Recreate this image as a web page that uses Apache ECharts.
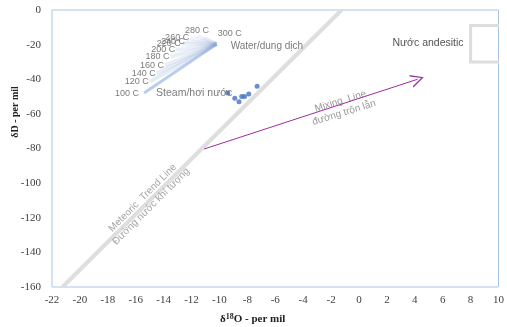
<!DOCTYPE html>
<html>
<head>
<meta charset="utf-8">
<script src="https://cdn.jsdelivr.net/npm/echarts@6/dist/echarts.min.js"></script>
<style>
  html, body { margin: 0; padding: 0; background: #fff; }
  #chart { width: 507px; height: 327px; }
</style>
</head>
<body>
<div id="chart"></div>
<script>
// Separation temperatures and the composition of the separated steam
const steamTemps = ['100 C', '120 C', '140 C', '160 C', '180 C', '200 C', '220 C', '240 C', '260 C', '280 C', '300 C'];
const steamO18 = [-15.4, -15.0, -14.5, -13.9, -13.5, -13.1, -12.7, -12.4, -12.1, -11.6, -11.1];
const steamD = [-48, -41.5, -36.5, -32, -27, -23, -19.5, -18, -16, -15, -16];

// Parent water composition
const waterO18 = -10.2;
const waterD = -19.6;

// Measured samples
const sampleO18 = [-9.4, -8.9, -8.6, -8.4, -8.2, -7.9, -7.3];
const sampleD = [-48, -51, -53, -50, -50, -48.5, -44];

// Meteoric water line (end points)
const meteoricO18 = [-21.25, -1.25];
const meteoricD = [-160, 0];

// Mixing line (start, end)
const mixingO18 = [-11.1, 4.2];
const mixingD = [-80.3, -40];

// Andesitic water field (corners)
const andesiticO18 = [8, 12];
const andesiticD = [-9, -30];

// Axis ticks
const xMin = -22, xMax = 10, xStep = 2;
const yMin = -160, yMax = 0, yStep = 20;

const chart = echarts.init(document.getElementById('chart'), null, { renderer: 'canvas' });

const serif = '"Liberation Serif", "DejaVu Serif", serif';
const sans = '"Liberation Sans", Arial, sans-serif';

// Fan of lines from the water to each steam composition
const fanData = steamTemps.map((t, i) => ({
  coords: [[waterO18, waterD], [steamO18[i], steamD[i]]],
  lineStyle: i === 0
    ? { color: 'rgba(84,130,200,0.8)', width: 3 }
    : { color: 'rgba(130,160,210,' + (0.42 - i * 0.022).toFixed(3) + ')', width: 4 }
}));

const tempLabelData = steamTemps.map((t, i) => {
  const item = { value: [steamO18[i], steamD[i]], name: t };
  if (t === '280 C') {
    item.label = { position: 'top', distance: 1 };
  } else if (t === '300 C') {
    item.value = [waterO18, waterD];
    item.label = { position: 'top', offset: [13, -3], distance: 3 };
  } else if (i > 0) {
    item.label = { distance: 1 };
  }
  return item;
});

const mixPts = mixingO18.map((x, i) => [x, mixingD[i]]);
const meteoricPts = meteoricO18.map((x, i) => [x, meteoricD[i]]);

const chevron = 'path://M0,12 L5,0 L10,12 L8.9,12 L5,2.5 L1.1,12 Z';

chart.setOption({
  animation: false,
  backgroundColor: '#fff',
  grid: {
    left: 52, right: 6, top: 10, bottom: 40,
    show: true, borderColor: '#A9C5E6', borderWidth: 1, backgroundColor: 'transparent'
  },
  xAxis: {
    type: 'value', min: xMin, max: xMax, interval: xStep,
    axisLine: { show: false }, axisTick: { show: false }, splitLine: { show: false },
    axisLabel: { color: '#404040', fontFamily: serif, fontSize: 11, margin: 8 }
  },
  yAxis: {
    type: 'value', min: yMin, max: yMax, interval: yStep,
    axisLine: { show: false }, axisTick: { show: false }, splitLine: { show: false },
    axisLabel: { color: '#404040', fontFamily: serif, fontSize: 11, margin: 11 }
  },
  graphic: [
    {
      type: 'text', left: 220, top: 313,
      style: {
        text: '{a|δ}{s|18}{a|O - per mil}',
        rich: {
          a: { fontFamily: serif, fontWeight: 'bold', fontSize: 11, fill: '#222' },
          s: { fontFamily: serif, fontWeight: 'bold', fontSize: 8, fill: '#222', verticalAlign: 'top', padding: [0, 0, 4, 0] }
        }
      }
    },
    {
      type: 'text', x: 15, y: 112, rotation: Math.PI / 2,
      style: {
        text: 'δD - per mil', fontFamily: serif, fontWeight: 'bold', fontSize: 10, fill: '#222',
        align: 'center', verticalAlign: 'middle'
      }
    }
  ],
  series: [
    {
      // Meteoric water line
      type: 'line', data: meteoricPts, symbol: 'none', silent: true, z: 1,
      lineStyle: { color: '#DEDEDE', width: 4 }
    },
    {
      // Andesitic water field, clipped at the plot edge
      type: 'custom', silent: true, z: 1, clip: true,
      data: [[andesiticO18[0], andesiticD[0], andesiticO18[1], andesiticD[1]]],
      renderItem: (params, api) => {
        const p0 = api.coord([api.value(0), api.value(1)]);
        const p1 = api.coord([api.value(2), api.value(3)]);
        return {
          type: 'rect',
          shape: { x: p0[0], y: p0[1], width: p1[0] - p0[0], height: p1[1] - p0[1] },
          style: { fill: 'none', stroke: '#DDDDDD', lineWidth: 3 }
        };
      }
    },
    {
      // Steam fan
      type: 'lines', coordinateSystem: 'cartesian2d', data: fanData, silent: true, z: 2
    },
    {
      // Temperature labels
      type: 'scatter', data: tempLabelData, symbolSize: 0, silent: true, z: 3,
      label: {
        show: true, position: 'left', distance: 5, formatter: p => p.name,
        color: '#595959', fontFamily: sans, fontSize: 9
      }
    },
    {
      // Mixing line with open arrowhead
      type: 'lines', coordinateSystem: 'cartesian2d', silent: true, z: 3,
      symbol: ['none', chevron], symbolSize: [9, 13],
      data: [{ coords: mixPts }],
      lineStyle: { color: '#A02BA0', width: 1, opacity: 1 }
    },
    {
      // Samples
      type: 'scatter', data: sampleO18.map((x, i) => [x, sampleD[i]]), z: 4,
      symbolSize: 5, itemStyle: { color: '#4472C4' }
    },
    {
      // Text annotations
      type: 'scatter', symbolSize: 0, silent: true, z: 5,
      label: { show: true, position: 'inside', formatter: p => p.name, color: '#595959', fontFamily: sans },
      data: [
        { name: 'Water/dung dịch', value: [waterO18, waterD], label: { position: 'right', distance: 14, offset: [0, 2], fontSize: 10 } },
        { name: 'Steam/hơi nước', value: [steamO18[0], steamD[0]], label: { position: 'right', distance: 12, fontSize: 10.5 } },
        { name: 'Nước andesitic', value: [andesiticO18[0], (andesiticD[0] + andesiticD[1]) / 2], label: { position: 'left', distance: 7, offset: [0, -1], fontSize: 10.5, color: '#262626' } },
        { name: 'Meteoric  Trend Line\nĐường nước khí tượng', value: [-15.2, -111], label: { rotate: 45, fontSize: 10, color: '#8C8C8C', align: 'center', lineHeight: 12 } },
        { name: 'Mixing  Line\nđường trộn lẫn', value: [-1.2, -56], label: { rotate: 17, fontSize: 10, color: '#7F7F7F', align: 'center', lineHeight: 12 } }
      ]
    }
  ]
});
</script>
</body>
</html>
